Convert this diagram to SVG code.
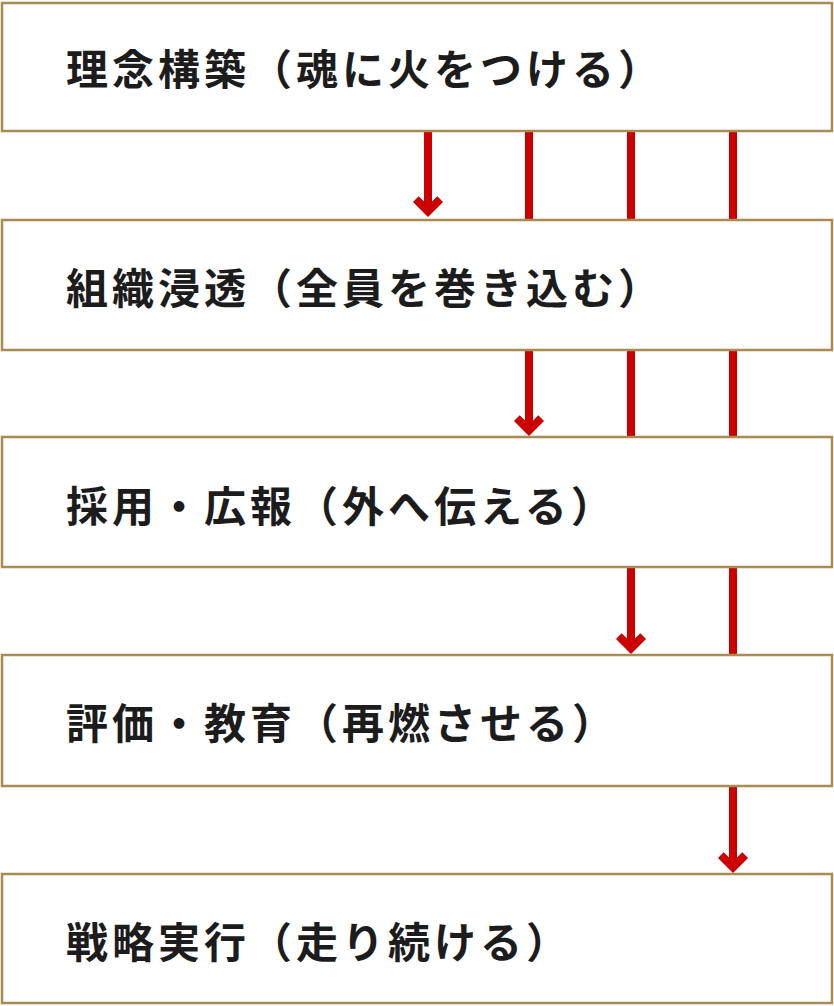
<svg xmlns="http://www.w3.org/2000/svg" width="834" height="1006" viewBox="0 0 834 1006">
<defs>
<style>
.box{fill:#fff;stroke:#a98c55;stroke-width:2.5}
.lbl{font-family:"Noto Sans CJK JP","Noto Sans CJK SC",sans-serif;font-weight:700;font-size:42px;letter-spacing:4px;fill:#1c1c1c}
.ln{stroke:#cc0000;stroke-width:8;fill:none}
.ah{fill:#cc0000}
</style>
<path id="head" d="M0,0 L-15,-15 L-9.3,-20.7 L-4,-15.4 L-4,-22 L4,-22 L4,-15.4 L9.3,-20.7 L15,-15 Z"/>
</defs>
<rect width="834" height="1006" fill="#fff"/>
<g id="connectors">
<line class="ln" x1="428" y1="131" x2="428" y2="205"/>
<use href="#head" class="ah" x="428" y="217"/>
<line class="ln" x1="529" y1="131" x2="529" y2="221"/>
<line class="ln" x1="529" y1="350" x2="529" y2="424"/>
<use href="#head" class="ah" x="529" y="436"/>
<line class="ln" x1="631" y1="131" x2="631" y2="221"/>
<line class="ln" x1="631" y1="350" x2="631" y2="438"/>
<line class="ln" x1="631" y1="567" x2="631" y2="642"/>
<use href="#head" class="ah" x="631" y="654"/>
<line class="ln" x1="733" y1="131" x2="733" y2="221"/>
<line class="ln" x1="733" y1="350" x2="733" y2="438"/>
<line class="ln" x1="733" y1="567" x2="733" y2="656"/>
<line class="ln" x1="733" y1="786" x2="733" y2="861"/>
<use href="#head" class="ah" x="733" y="873"/>
</g>
<g id="node1">
<rect class="box" x="2" y="3" width="830" height="128"/>
<text class="lbl" x="66" y="85">理念構築（魂に火をつける）</text>
</g>
<g id="node2">
<rect class="box" x="2" y="220" width="830" height="130"/>
<text class="lbl" x="66" y="304">組織浸透（全員を巻き込む）</text>
</g>
<g id="node3">
<rect class="box" x="2" y="437" width="830" height="130"/>
<text class="lbl" x="66" y="522">採用・広報（外へ伝える）</text>
</g>
<g id="node4">
<rect class="box" x="2" y="655" width="830" height="131"/>
<text class="lbl" x="66" y="739">評価・教育（再燃させる）</text>
</g>
<g id="node5">
<rect class="box" x="2" y="874" width="830" height="129"/>
<text class="lbl" x="66" y="958">戦略実行（走り続ける）</text>
</g>
</svg>
